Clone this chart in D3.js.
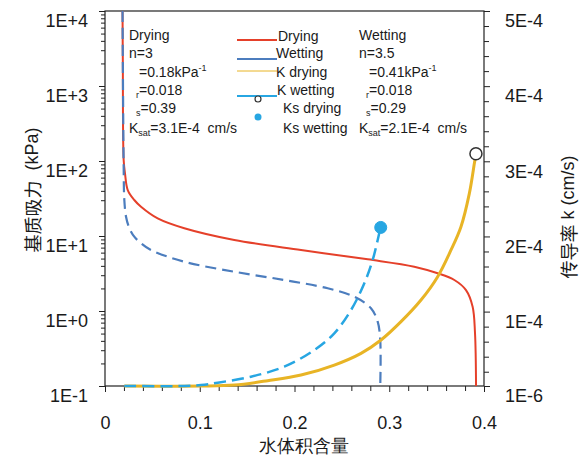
<!DOCTYPE html>
<html><head><meta charset="utf-8">
<script src="https://cdn.jsdelivr.net/npm/d3@7"></script>
<style>body{margin:0;background:#fff} svg{display:block} text{font-family:"Liberation Sans",Arial,sans-serif;fill:#1a1a1a}</style>
</head><body><svg id="c" width="585" height="461"></svg>
<script>
// ---- data ----
const dryTheta = [0.0185, 0.0188, 0.0197, 0.0211, 0.024, 0.0309, 0.038, 0.0556, 0.0837, 0.1365, 0.2069, 0.2773, 0.3264, 0.3511, 0.3687, 0.381, 0.388, 0.3905, 0.3916];
const dryPsi   = [10000, 2200, 103, 68.5, 41, 30.2, 24.6, 17.2, 12.7, 8.85, 6.5, 4.89, 3.9, 3.18, 2.59, 1.9, 1.14, 0.51, 0.1];
const wetTheta = [0.0185, 0.0197, 0.0204, 0.0222, 0.0257, 0.0309, 0.038, 0.0485, 0.0837, 0.1365, 0.1892, 0.235, 0.263, 0.2807, 0.2878, 0.2905, 0.2905];
const wetPsi   = [10000, 83, 30.2, 18.1, 12.7, 9.8, 8.0, 6.5, 4.54, 3.34, 2.59, 2.01, 1.55, 1.09, 0.72, 0.41, 0.1];
const kDryTheta = [0.0204, 0.1013, 0.1365, 0.1717, 0.2069, 0.242, 0.2702, 0.2913, 0.3124, 0.3335, 0.3511, 0.3652, 0.3757, 0.3845, 0.3898, 0.391];
const kDryVal   = [1e-6, 1e-6, 2.3e-6, 8.1e-6, 15.6e-6, 28.9e-6, 44.5e-6, 62.2e-6, 86.6e-6, 115.4e-6, 146.5e-6, 182e-6, 213e-6, 257e-6, 297e-6, 306e-6];
const kWetTheta = [0.0204, 0.0837, 0.1013, 0.119, 0.1541, 0.1892, 0.2209, 0.242, 0.2596, 0.2737, 0.2825, 0.2878, 0.2905];
const kWetVal   = [1e-6, 1e-6, 2.2e-6, 5.4e-6, 13.4e-6, 26.7e-6, 48.9e-6, 71.1e-6, 102e-6, 137.7e-6, 168.7e-6, 195.3e-6, 210.8e-6];
const ksDry = [0.3915, 3.1e-4];
const ksWet = [0.291, 2.12e-4];

const leftTickValues = [0.1, 1, 10, 100, 1000, 10000];
const leftTickLabels = ["1E-1", "1E+0", "1E+1", "1E+2", "1E+3", "1E+4"];
const rightTickValues = [1e-6, 1e-4, 2e-4, 3e-4, 4e-4, 5e-4];
const rightTickLabels = ["1E-6", "1E-4", "2E-4", "3E-4", "4E-4", "5E-4"];
const xTickValues = [0, 0.1, 0.2, 0.3, 0.4];
const xTickLabels = ["0", "0.1", "0.2", "0.3", "0.4"];

const seriesNames = ["Drying", "Wetting", "K drying", "K wetting", "Ks drying", "Ks wetting"];

// ---- layout ----
const svg = d3.select("#c");
const L = 105, R = 484, T = 11, B = 386;
const C = {red: "#E5402A", blue: "#4C7DBE", gold: "#E8B425", lblue: "#27A6E2", axis: "#222"};

const x = d3.scaleLinear().domain([0, 0.4]).range([L, R]);
const yL = d3.scaleLog().domain([0.1, 10000]).range([B, T]);
const yR = d3.scaleLinear().domain([1e-6, 5e-4]).range([B, T]);

// minor ticks
const leftMinor = [];
[0.1, 1, 10, 100, 1000].forEach(d => { for (let m = 2; m <= 9; m++) leftMinor.push(d * m); });
const rightMinor = [];
for (let k = 1; k < 25; k++) if (k % 5) rightMinor.push(k * 2e-5);
const xMinor = [];
for (let k = 1; k < 20; k++) if (k % 5) xMinor.push(k * 0.02);

function styleAxis(g) {
  g.select(".domain").remove();
  g.selectAll("line").attr("stroke", C.axis).attr("stroke-width", 1);
  g.selectAll("text").attr("font-size", 18).attr("fill", "#1a1a1a").attr("font-family", '"Liberation Sans",Arial,sans-serif');
}

// left axis
svg.append("g").attr("transform", `translate(${L},0)`)
  .call(d3.axisLeft(yL).tickValues(leftMinor).tickSize(4).tickFormat(""))
  .call(styleAxis);
const gl = svg.append("g").attr("transform", `translate(${L},0)`)
  .call(d3.axisLeft(yL).tickValues(leftTickValues).tickSize(6).tickPadding(11).tickFormat((d, i) => leftTickLabels[i]))
  .call(styleAxis);
gl.selectAll("text").attr("y", 10);

// right axis
svg.append("g").attr("transform", `translate(${R},0)`)
  .call(d3.axisRight(yR).tickValues(rightMinor).tickSize(5).tickFormat(""))
  .call(styleAxis);
const gr = svg.append("g").attr("transform", `translate(${R},0)`)
  .call(d3.axisRight(yR).tickValues(rightTickValues).tickSize(6).tickPadding(15).tickFormat((d, i) => rightTickLabels[i]))
  .call(styleAxis);
gr.selectAll("text").attr("y", 10);

// bottom axis
svg.append("g").attr("transform", `translate(0,${B})`)
  .call(d3.axisBottom(x).tickValues(xMinor).tickSize(5).tickFormat(""))
  .call(styleAxis);
svg.append("g").attr("transform", `translate(0,${B})`)
  .call(d3.axisBottom(x).tickValues(xTickValues).tickSize(6).tickPadding(24).tickFormat((d, i) => xTickLabels[i]))
  .call(styleAxis);

// frame
svg.append("rect").attr("x", L).attr("y", T).attr("width", R - L).attr("height", B - T)
  .attr("fill", "none").attr("stroke", C.axis).attr("stroke-width", 1.2);

// curves
const lineL = d3.line().x(d => x(d[0])).y(d => yL(d[1])).curve(d3.curveCatmullRom.alpha(0.5));
const lineR = d3.line().x(d => x(d[0])).y(d => yR(d[1])).curve(d3.curveCatmullRom.alpha(0.5));
const zip = (a, b) => a.map((v, i) => [v, b[i]]);

svg.append("path").attr("d", lineL(zip(dryTheta, dryPsi))).attr("fill", "none")
  .attr("stroke", C.red).attr("stroke-width", 2);
svg.append("path").attr("d", lineL(zip(wetTheta, wetPsi))).attr("fill", "none")
  .attr("stroke", C.blue).attr("stroke-width", 2.2).attr("stroke-dasharray", "11,6");
svg.append("path").attr("d", lineR(zip(kDryTheta, kDryVal))).attr("fill", "none")
  .attr("stroke", C.gold).attr("stroke-width", 3);
svg.append("path").attr("d", lineR(zip(kWetTheta, kWetVal))).attr("fill", "none")
  .attr("stroke", C.lblue).attr("stroke-width", 2.5).attr("stroke-dasharray", "12,6");

svg.append("circle").attr("cx", x(ksDry[0])).attr("cy", yR(ksDry[1])).attr("r", 6)
  .attr("fill", "#fff").attr("stroke", "#333").attr("stroke-width", 1.5);
svg.append("circle").attr("cx", x(ksWet[0])).attr("cy", yR(ksWet[1])).attr("r", 6)
  .attr("fill", C.lblue).attr("stroke", C.lblue);

// legend
const lg = svg.append("g").attr("font-size", 14);
const legLines = [[40, C.red, 2], [59, C.blue, 2], [71, C.gold, 1], [96, C.lblue, 2]];
legLines.forEach(([yy, col, w]) => lg.append("line").attr("x1", 237).attr("x2", 277).attr("y1", yy).attr("y2", yy).attr("stroke", col).attr("stroke-width", w));
lg.append("circle").attr("cx", 258).attr("cy", 99).attr("r", 3).attr("fill", "#fff").attr("stroke", "#333").attr("stroke-width", 1.2);
lg.append("circle").attr("cx", 258).attr("cy", 117).attr("r", 3.5).attr("fill", C.lblue);
const legText = [[278, 41], [276, 58], [276, 77], [277, 95], [283, 113], [283, 133]];
seriesNames.forEach((n, i) => lg.append("text").attr("x", legText[i][0]).attr("y", legText[i][1]).text(n));

// parameter blocks
function block(x0, xi, title, n, alpha, thr, ths, ksat) {
  const g = svg.append("g").attr("font-size", 14);
  g.append("text").attr("x", x0).attr("y", 40).text(title);
  g.append("text").attr("x", x0).attr("y", 58).text(n);
  const t1 = g.append("text").attr("x", xi + 1).attr("y", 77).text(alpha);
  t1.append("tspan").attr("font-size", 9).attr("dy", -6).text("-1");
  const t2 = g.append("text").attr("x", xi - 2).attr("y", 95);
  t2.append("tspan").attr("font-size", 9).attr("dy", 3).text("r");
  t2.append("tspan").attr("dy", -3).text(thr);
  const t3 = g.append("text").attr("x", xi - 2).attr("y", 113);
  t3.append("tspan").attr("font-size", 9).attr("dy", 3).text("s");
  t3.append("tspan").attr("dy", -3).text(ths);
  const t4 = g.append("text").attr("x", x0).attr("y", 133).attr("xml:space", "preserve").style("white-space", "pre");
  t4.append("tspan").text("K");
  t4.append("tspan").attr("font-size", 9).attr("dy", 3).text("sat");
  t4.append("tspan").attr("dy", -3).text(ksat);
}
block(129, 138, "Drying", "n=3", "=0.18kPa", "=0.018", "=0.39", "=3.1E-4  cm/s");
block(359, 368, "Wetting", "n=3.5", "=0.41kPa", "=0.018", "=0.29", "=2.1E-4  cm/s");

// axis titles
svg.append("text").attr("transform", "translate(32,190) rotate(-90)").attr("text-anchor", "middle")
  .attr("dominant-baseline", "central").attr("font-size", 18).style("white-space", "pre")
  .call(t => { t.append("tspan").attr("font-family", '"Noto Sans CJK SC"').text("基质吸力"); t.append("tspan").text("  (kPa)"); });
svg.append("text").attr("transform", "translate(568,217) rotate(-90)").attr("text-anchor", "middle")
  .attr("dominant-baseline", "central").attr("font-size", 18).style("white-space", "pre")
  .call(t => { t.append("tspan").attr("font-family", '"Noto Sans CJK SC"').text("传导率"); t.append("tspan").text(" k (cm/s)"); });
svg.append("text").attr("x", 304).attr("y", 446).attr("text-anchor", "middle").attr("dominant-baseline", "central")
  .attr("font-size", 18).attr("font-family", '"Noto Sans CJK SC"').text("水体积含量");
</script></body></html>
